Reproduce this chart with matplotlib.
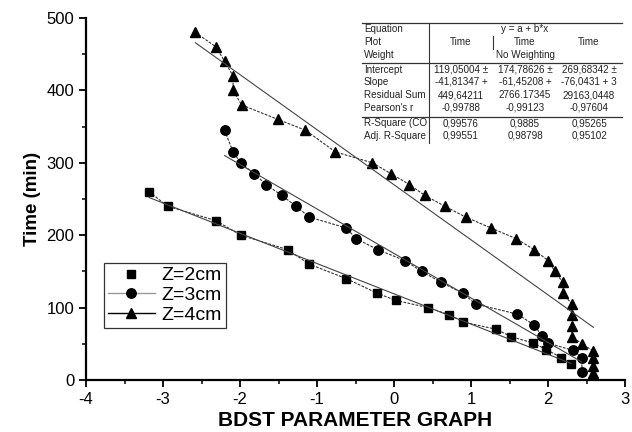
import matplotlib.pyplot as plt
from matplotlib.lines import Line2D
import numpy as np

plt.rcParams['font.family'] = ['Liberation Sans', 'DejaVu Sans']
plt.rcParams['axes.unicode_minus'] = False

# Z = 2 cm (squares)
x2 = [-3.18, -2.94, -2.31, -1.99, -1.38, -1.10, -0.62, -0.22, 0.02, 0.44, 0.72,
      0.90, 1.33, 1.52, 1.81, 1.98, 2.17, 2.30]
t2 = [260, 240, 220, 200, 180, 160, 140, 120, 110, 100, 90,
      80, 70, 60, 51, 42, 31, 22]

# Z = 3 cm (circles)
x3 = [-2.20, -2.09, -1.99, -1.82, -1.66, -1.46, -1.27, -1.10, -0.62, -0.49, -0.21,
      0.14, 0.36, 0.61, 0.89, 1.06, 1.60, 1.82, 1.92, 2.00, 2.32, 2.44, 2.44]
t3 = [345, 315, 300, 285, 270, 255, 240, 225, 210, 195, 180,
      165, 150, 135, 120, 105, 91, 76, 61, 51, 41, 31, 11]

# Z = 4 cm (triangles)
x4 = [-2.58, -2.31, -2.20, -2.09, -2.09, -1.98, -1.51, -1.15, -0.76, -0.28, -0.04,
      0.20, 0.40, 0.66, 0.93, 1.26, 1.59, 1.82, 2.00, 2.09, 2.19, 2.19, 2.31, 2.31,
      2.31, 2.31, 2.44, 2.59, 2.59, 2.59, 2.59]
t4 = [480, 460, 440, 420, 400, 380, 360, 345, 315, 300, 285,
      270, 255, 240, 225, 210, 195, 180, 165, 150, 135, 120, 105, 90,
      75, 60, 50, 40, 30, 20, 10]

# linear fits y = a + b*x
intercepts = [119.05004, 174.78626, 269.68342]
slopes = [-41.81347, -61.45208, -76.0431]

labels = ['Z=2cm', 'Z=3cm', 'Z=4cm']

# fit report table
row_names = ['Equation', 'Plot', 'Weight', 'Intercept', 'Slope', 'Residual Sum',
             "Pearson's r", 'R-Square (CO', 'Adj. R-Square']
col_intercept = ['119,05004 \u00b1', '174,78626 \u00b1', '269,68342 \u00b1']
col_slope = ['-41,81347 +', '-61,45208 +', '-76,0431 + 3']
col_rss = ['449,64211', '2766.17345', '29163,0448']
col_pearson = ['-0,99788', '-0,99123', '-0,97604']
col_r2 = ['0,99576', '0,9885', '0,95265']
col_adjr2 = ['0,99551', '0,98798', '0,95102']

W, H = 632, 432
fig = plt.figure(figsize=(W / 100, H / 100), dpi=100)
ax = fig.add_axes([86 / W, 1 - 380 / H, (625 - 86) / W, (380 - 18) / H])

series = [(x2, t2, 's', 6.3), (x3, t3, 'o', 6.8), (x4, t4, '^', 7.8)]
for (xs, ts, mk, ms), a, b in zip(series, intercepts, slopes):
    ax.plot(xs, ts, ls=(0, (2.5, 1.2)), lw=0.8, color='#333333',
            marker=mk, ms=ms, mfc='black', mec='black')
    xf = np.array([min(xs), max(xs)])
    ax.plot(xf, a + b * xf, '-', lw=0.8, color='#444444')

ax.set_xlim(-4, 3)
ax.set_ylim(0, 500)
ax.set_xticks(range(-4, 4))
ax.set_xticks(np.arange(-3.5, 3, 1), minor=True)
ax.set_yticks(range(0, 501, 100))
ax.set_yticks(range(50, 500, 100), minor=True)
ax.spines['top'].set_visible(False)
ax.spines['right'].set_visible(False)
for s in ('left', 'bottom'):
    ax.spines[s].set_linewidth(1.6)
ax.tick_params(which='major', direction='out', length=5, width=1.3, labelsize=12)
ax.tick_params(which='minor', direction='out', length=3, width=1.1)
ax.set_xlabel('BDST PARAMETER GRAPH', fontsize=15, fontweight='bold', labelpad=3)
ax.set_ylabel('Time (min)', fontsize=13.5, fontweight='bold', labelpad=4)

handles = [
    Line2D([], [], ls='none', marker='s', ms=6.3, color='black'),
    Line2D([], [], ls='-', lw=1, color='#999999', marker='o', ms=6.8,
           mfc='black', mec='black'),
    Line2D([], [], ls='-', lw=1, color='black', marker='^', ms=7.8),
]
leg = ax.legend(handles, labels, loc='upper left',
                bbox_to_anchor=((104 - 86) / 539, (380 - 263) / 362),
                borderaxespad=0, fontsize=14, frameon=True, fancybox=False,
                edgecolor='black', handlelength=2.4, handletextpad=0.35,
                labelspacing=0.1, borderpad=0.2)
leg.get_frame().set_linewidth(0.9)


# ---- inset fit table (pixel layout) ----
def px(x, y):
    return x / W, 1 - y / H


def ptext(x, y, s, ha='center'):
    fig.text(*px(x, y), s, ha=ha, va='center', fontsize=7.1, color='#222222')


def pline(x0, y0, x1, y1, lw=0.9):
    (a0, b0), (a1, b1) = px(x0, y0), px(x1, y1)
    fig.add_artist(Line2D([a0, a1], [b0, b1], color='#333333', lw=lw))


row_y = [29, 42, 55, 70, 82, 95, 108, 123, 136]
col_x = [461, 525, 589]
for name, y in zip(row_names, row_y):
    ptext(364, y, name, ha='left')
ptext(col_x[1], row_y[0], 'y = a + b*x')
for cx in col_x:
    ptext(cx, row_y[1], 'Time')
ptext(col_x[1], row_y[2], 'No Weighting')
for vals, y in zip([col_intercept, col_slope, col_rss, col_pearson, col_r2, col_adjr2],
                   row_y[3:]):
    for cx, v in zip(col_x, vals):
        ptext(cx, y, v)

pline(362, 23, 622, 23)
pline(362, 63, 622, 63)
pline(362, 117, 622, 117)
pline(429, 23, 429, 143, lw=0.8)
pline(493, 36, 493, 49, lw=0.8)

fig.savefig('out.png', dpi=100)
